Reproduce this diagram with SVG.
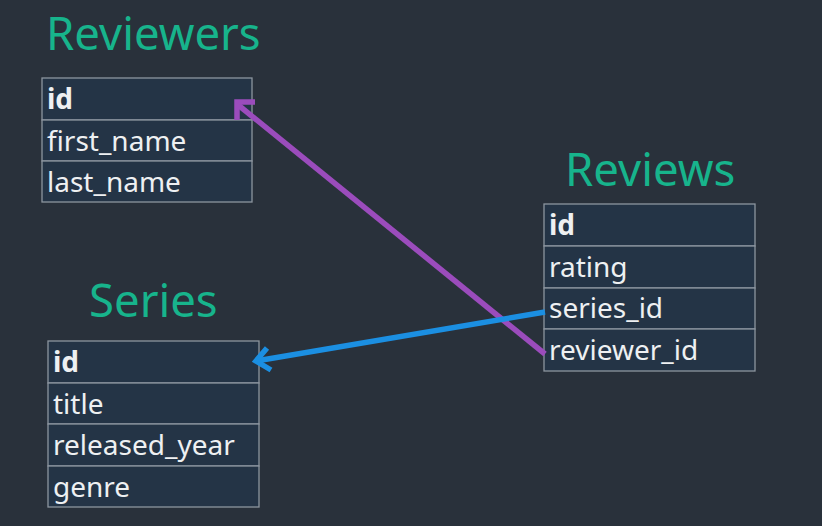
<svg xmlns="http://www.w3.org/2000/svg" width="822" height="526" viewBox="0 0 822 526">
<defs>
<style>
.bg{fill:#29313b}
.cell{fill:#243446;stroke:#8c959f;stroke-width:1.3}
.title{font-family:"Noto Sans","Open Sans",sans-serif;font-size:45.5px;fill:#17b48c}
.f{font-family:"Noto Sans","Open Sans",sans-serif;font-size:28px;fill:#eef0f2}
.pk{font-weight:bold}
.purple{stroke:#9b4cbc;stroke-width:5.5;fill:none;stroke-linecap:butt}
.blue{stroke:#1b8fe2;stroke-width:5.5;fill:none;stroke-linecap:butt}
</style>
</defs>
<rect class="bg" x="0" y="0" width="822" height="526"/>
<g id="reviewers">
<text class="title" x="46" y="50">Reviewers</text>
<rect class="cell" x="42" y="78" width="210" height="42"/>
<rect class="cell" x="42" y="120" width="210" height="41"/>
<rect class="cell" x="42" y="161" width="210" height="41"/>
<text class="f pk" x="47" y="109">id</text>
<text class="f" x="47" y="151">first_name</text>
<text class="f" x="47" y="192">last_name</text>
</g>
<g id="reviews">
<text class="title" x="565" y="186">Reviews</text>
<rect class="cell" x="544" y="204" width="211" height="42"/>
<rect class="cell" x="544" y="246" width="211" height="42"/>
<rect class="cell" x="544" y="288" width="211" height="41"/>
<rect class="cell" x="544" y="329" width="211" height="42"/>
<text class="f pk" x="549" y="235">id</text>
<text class="f" x="549" y="277">rating</text>
<text class="f" x="549" y="318">series_id</text>
<text class="f" x="549" y="360">reviewer_id</text>
</g>
<g id="series">
<text class="title" x="89" y="317">Series</text>
<rect class="cell" x="48" y="341" width="211" height="42"/>
<rect class="cell" x="48" y="383" width="211" height="41"/>
<rect class="cell" x="48" y="424" width="211" height="42"/>
<rect class="cell" x="48" y="466" width="211" height="41"/>
<text class="f pk" x="53" y="372">id</text>
<text class="f" x="53" y="414">title</text>
<text class="f" x="53" y="455">released_year</text>
<text class="f" x="53" y="497">genre</text>
</g>
<g id="connectors">
<path class="purple" d="M545 354 L237 104"/>
<path class="purple" d="M255 102 L237 102 L237 120"/>
<path class="blue" d="M545 312 L256 361"/>
<path class="blue" d="M267 348 L256 361 L271 370"/>
</g>
</svg>
